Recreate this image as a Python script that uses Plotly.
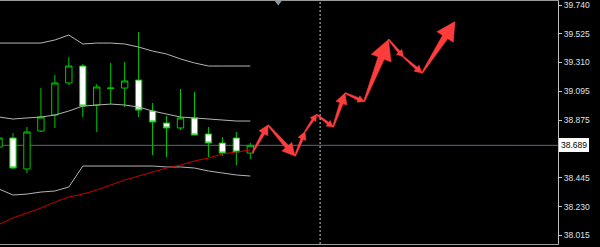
import math
import plotly.graph_objects as go

# ---------------- data ----------------
bar_index = list(range(19))
open_ = [38.676, 38.744, 38.512, 38.796, 38.916, 39.156, 39.283, 38.991, 39.115, 39.118,
         39.178, 38.946, 38.856, 38.819, 38.894, 38.774, 38.706, 38.744, 38.631]
high = [38.751, 38.781, 38.826, 39.118, 39.216, 39.350, 39.298, 39.148, 39.306, 39.313,
        39.538, 39.006, 38.909, 39.111, 39.088, 38.826, 38.751, 38.789, 38.706]
low = [38.669, 38.512, 38.482, 38.789, 38.819, 39.141, 38.901, 38.789, 38.998, 38.976,
       38.901, 38.616, 38.601, 38.804, 38.766, 38.601, 38.609, 38.542, 38.586]
close = [38.744, 38.519, 38.789, 38.901, 39.156, 39.283, 38.983, 39.126, 39.118, 39.171,
         38.953, 38.864, 38.819, 38.894, 38.766, 38.706, 38.631, 38.639, 38.689]

bb_upper = [39.455, 39.455, 39.455, 39.455, 39.478, 39.515, 39.448, 39.455, 39.455, 39.448,
            39.425, 39.395, 39.373, 39.336, 39.306, 39.283, 39.283, 39.283, 39.283]
bb_middle = [38.901, 38.886, 38.894, 38.901, 38.916, 38.946, 38.983, 38.991, 38.998, 38.991,
             38.976, 38.946, 38.924, 38.901, 38.894, 38.886, 38.879, 38.871, 38.871]
bb_lower = [38.362, 38.317, 38.324, 38.339, 38.347, 38.377, 38.534, 38.534, 38.534, 38.534,
            38.534, 38.534, 38.527, 38.527, 38.519, 38.497, 38.482, 38.467, 38.459]
ma_red = [38.096, 38.145, 38.182, 38.219, 38.264, 38.302, 38.324, 38.354, 38.392, 38.429,
          38.459, 38.489, 38.519, 38.542, 38.572, 38.594, 38.624, 38.639, 38.654]

forecast_x = [18.16, 19.27, 21.20, 21.92, 22.74, 23.93, 24.78, 26.15, 27.90, 28.98, 30.30, 32.66]
forecast_y = [38.635, 38.841, 38.609, 38.792, 38.920, 38.826, 39.081, 39.017, 39.482, 39.350,
              39.231, 39.616]

tick_values = [39.740, 39.525, 39.310, 39.095, 38.875, 38.660, 38.445, 38.230, 38.015]
# the 38.660 label sits hidden behind the current-price box in the reference
tick_labels = ["39.740", "39.525", "39.310", "39.095", "38.875", "", "38.445", "38.230", "38.015"]
last_price = 38.689
last_price_label = "38.689"
time_marker_index = 23
shift_marker_index = 20

# ---------------- layout geometry ----------------
W, H = 600, 247
M_L, M_R, M_T, M_B = 0, 42, 1, 3
X_RANGE = [0.07, 40.04]
Y_RANGE = [37.950, 39.770]
plot_w = W - M_L - M_R
plot_h = H - M_T - M_B
sx = plot_w / (X_RANGE[1] - X_RANGE[0])
sy = plot_h / (Y_RANGE[1] - Y_RANGE[0])

GREEN = "#00c800"
ARROW_RED = "#ff3c3c"
BAND = "#b4b4b4"
FRAME = "#9a9a9a"

fig = go.Figure()

for band in (bb_upper, bb_middle, bb_lower):
    fig.add_trace(go.Scatter(x=bar_index, y=band, mode="lines",
                             line=dict(color=BAND, width=1), hoverinfo="skip", showlegend=False))

fig.add_trace(go.Candlestick(
    x=bar_index, open=open_, high=high, low=low, close=close,
    increasing=dict(line=dict(color=GREEN, width=1), fillcolor="#000000"),
    decreasing=dict(line=dict(color=GREEN, width=1), fillcolor="#ffffff"),
    whiskerwidth=0, showlegend=False, hoverinfo="skip"))

fig.add_trace(go.Scatter(x=bar_index, y=ma_red, mode="lines",
                         line=dict(color="#cc0000", width=1), hoverinfo="skip", showlegend=False))


def arrow_polygon(xa, ya, xb, yb):
    X0, Y0, X1, Y1 = xa * sx, ya * sy, xb * sx, yb * sy
    dx, dy = X1 - X0, Y1 - Y0
    L = math.hypot(dx, dy)
    ux, uy = dx / L, dy / L
    nx, ny = -uy, ux
    hl = max(0.30 * L, 6.0)
    hw = max(0.16 * L, 3.5)
    sw = max(0.05 * L, 1.3)
    tw = 0.6
    bx, by = X1 - ux * hl, Y1 - uy * hl
    pts = [
        (X0 + nx * tw, Y0 + ny * tw),
        (bx + nx * sw, by + ny * sw),
        (bx + nx * hw, by + ny * hw),
        (X1, Y1),
        (bx - nx * hw, by - ny * hw),
        (bx - nx * sw, by - ny * sw),
        (X0 - nx * tw, Y0 - ny * tw),
        (X0 + nx * tw, Y0 + ny * tw),
    ]
    return [p[0] / sx for p in pts], [p[1] / sy for p in pts]


for i in range(len(forecast_x) - 1):
    px, py = arrow_polygon(forecast_x[i], forecast_y[i], forecast_x[i + 1], forecast_y[i + 1])
    fig.add_trace(go.Scatter(x=px, y=py, mode="lines", fill="toself", fillcolor=ARROW_RED,
                             line=dict(color=ARROW_RED, width=0.5), hoverinfo="skip",
                             showlegend=False))

# chart-shift marker at top
fig.add_trace(go.Scatter(x=[shift_marker_index], y=[Y_RANGE[1]], mode="markers",
                         marker=dict(symbol="triangle-down", size=9, color="#8898aa"),
                         cliponaxis=False, hoverinfo="skip", showlegend=False))

fig.add_shape(type="line", xref="paper", x0=0, x1=1, yref="y", y0=last_price, y1=last_price,
              line=dict(color="#5f6778", width=1), layer="below")
fig.add_shape(type="line", xref="x", x0=time_marker_index, x1=time_marker_index,
              yref="paper", y0=0, y1=1,
              line=dict(color="#c8c8c8", width=1, dash="2px,2px"))

fig.add_annotation(xref="paper", x=1, xanchor="left", xshift=1, yref="y", y=last_price,
                   yanchor="middle", text=last_price_label, showarrow=False,
                   font=dict(family="Liberation Sans, Arial", size=8.5, color="#000000"),
                   bgcolor="#ffffff", borderpad=1, bordercolor="#ffffff", borderwidth=1)

fig.update_layout(
    width=W, height=H,
    margin=dict(l=M_L, r=M_R, t=M_T, b=M_B, autoexpand=False),
    paper_bgcolor="#000000", plot_bgcolor="#000000",
    boxgap=0.35,
    showlegend=False,
    xaxis=dict(range=X_RANGE, showgrid=False, zeroline=False, showticklabels=False,
               ticks="", showline=True, mirror=True, linecolor=FRAME, linewidth=1,
               rangeslider=dict(visible=False), fixedrange=True),
    yaxis=dict(range=Y_RANGE, side="right", showgrid=False, zeroline=False,
               tickmode="array", tickvals=tick_values, ticktext=tick_labels,
               ticks="outside", ticklen=3, tickcolor="#c8c8c8",
               ticklabeloverflow="allow",
               tickfont=dict(family="Liberation Sans, Arial", size=8.5, color="#dde2ea"),
               showline=True, linecolor="#c0c0c0", linewidth=1, mirror=True,
               fixedrange=True),
)

fig.write_html("out.html")
